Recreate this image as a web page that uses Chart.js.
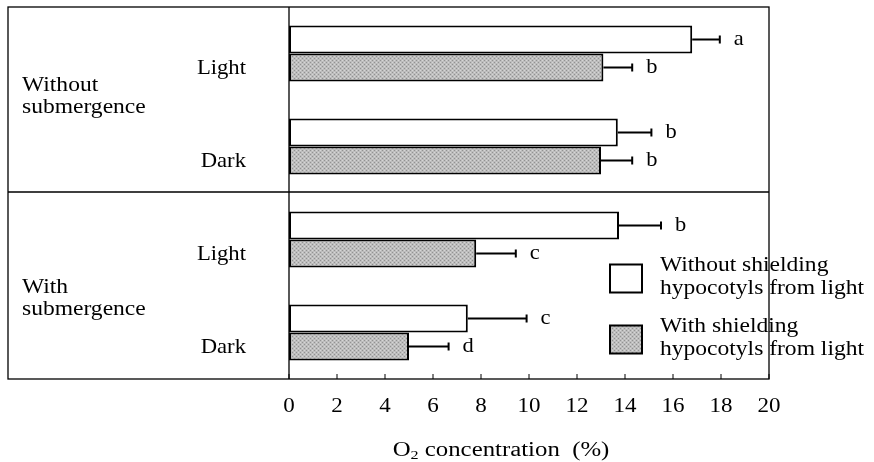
<!DOCTYPE html>
<html lang="en">
<head>
    <meta charset="UTF-8">
    <title>O2 concentration</title>
    <script src="https://cdn.jsdelivr.net/npm/chart.js"></script>
    <style>
        html, body { margin: 0; padding: 0; background: #fff; }
        #wrap { width: 874px; height: 462px; }
    </style>
</head>
<body>
    <div id="wrap"><canvas id="chart" width="874" height="462"></canvas></div>

    <script>
        // data
        const categories = ['Light', 'Dark', 'Light', 'Dark'];
        const groups = ['Without\nsubmergence', 'With\nsubmergence'];
        const seriesNames = ['Without shielding\nhypocotyls from light', 'With shielding\nhypocotyls from light'];
        const noShield = [16.8, 13.7, 13.75, 7.45];
        const withShield = [13.1, 13.0, 7.8, 5.0];
        const noShieldErr = [1.15, 1.4, 1.75, 2.45];
        const withShieldErr = [1.2, 1.3, 1.65, 1.65];
        const noShieldLetters = ['a', 'b', 'b', 'c'];
        const withShieldLetters = ['b', 'b', 'c', 'd'];
        const xTicks = [0, 2, 4, 6, 8, 10, 12, 14, 16, 18, 20];

        const serif = '"Liberation Serif", "DejaVu Serif", serif';

        // speckled grey fill like the scanned print
        function makeGrey() {
            const c = document.createElement('canvas');
            c.width = 4; c.height = 4;
            const g = c.getContext('2d');
            g.fillStyle = '#bdbdbd';
            g.fillRect(0, 0, 4, 4);
            g.fillStyle = '#929292';
            g.fillRect(0, 0, 1, 1);
            g.fillRect(2, 2, 1, 1);
            g.fillStyle = '#d6d6d6';
            g.fillRect(2, 0, 1, 1);
            g.fillRect(0, 2, 1, 1);
            return g.createPattern(c, 'repeat');
        }
        const grey = makeGrey();

        // the scanned type is a little wider than Liberation Serif
        function drawText(ctx, str, x, y, align, sx) {
            ctx.save();
            ctx.translate(x, y);
            ctx.scale(sx, 1);
            ctx.textAlign = align;
            ctx.fillText(str, 0, 0);
            ctx.restore();
        }

        const decor = {
            id: 'decor',
            afterDatasetsDraw(chart) {
                const ctx = chart.ctx;
                const a = chart.chartArea;
                const xs = chart.scales.x;
                const ys = chart.scales.y;
                const left = 8;
                const sx = 1.07;
                ctx.save();

                // error bars and letters
                const errs = [noShieldErr, withShieldErr];
                const letters = [noShieldLetters, withShieldLetters];
                ctx.strokeStyle = '#000';
                ctx.lineWidth = 2;
                ctx.font = '21px ' + serif;
                ctx.fillStyle = '#000';
                ctx.textBaseline = 'middle';
                chart.data.datasets.forEach((ds, di) => {
                    chart.getDatasetMeta(di).data.forEach((bar, i) => {
                        const x0 = xs.getPixelForValue(ds.data[i]);
                        const x1 = xs.getPixelForValue(ds.data[i] + errs[di][i]);
                        ctx.beginPath();
                        ctx.moveTo(x0, bar.y);
                        ctx.lineTo(x1, bar.y);
                        ctx.moveTo(x1, bar.y - 4);
                        ctx.lineTo(x1, bar.y + 4);
                        ctx.stroke();
                        drawText(ctx, letters[di][i], x1 + 14, bar.y, 'left', sx);
                    });
                });

                // frame and dividers
                ctx.lineWidth = 1.3;
                ctx.strokeRect(left, a.top, a.right - left, a.bottom - a.top);
                ctx.beginPath();
                ctx.moveTo(a.left, a.top);
                ctx.lineTo(a.left, a.bottom);
                const mid = (a.top + a.bottom) / 2 - 1;
                ctx.moveTo(left, mid);
                ctx.lineTo(a.right, mid);
                ctx.stroke();

                // inward tick marks and tick labels
                ctx.lineWidth = 1;
                ctx.font = '20px ' + serif;
                xTicks.forEach(t => {
                    const x = xs.getPixelForValue(t);
                    ctx.beginPath();
                    ctx.moveTo(x, a.bottom);
                    ctx.lineTo(x, a.bottom - 5);
                    ctx.stroke();
                    drawText(ctx, String(t), x, a.bottom + 28, 'center', 1.15);
                });

                // axis title with subscript
                const tx = (a.left + a.right) / 2 - 28;
                const ty = a.bottom + 72;
                const tsx = 1.24;
                ctx.font = '20px ' + serif;
                const wO = ctx.measureText('O').width;
                const rest = ' concentration  (%)';
                const wR = ctx.measureText(rest).width;
                ctx.font = '13px ' + serif;
                const w2 = ctx.measureText('2').width;
                const total = (wO + w2 + wR) * tsx;
                ctx.save();
                ctx.translate(tx - total / 2, ty);
                ctx.scale(tsx, 1);
                ctx.textAlign = 'left';
                ctx.font = '20px ' + serif;
                ctx.fillText('O', 0, 0);
                ctx.font = '13px ' + serif;
                ctx.fillText('2', wO, 5);
                ctx.font = '20px ' + serif;
                ctx.fillText(rest, wO + w2, 0);
                ctx.restore();

                ctx.font = '22px ' + serif;

                // category labels
                categories.forEach((c, i) => {
                    drawText(ctx, c, a.left - 43, ys.getPixelForValue(i) + 15, 'right', 1.03);
                });

                // group labels
                const gy = [(a.top + mid) / 2 - 3, (mid + a.bottom) / 2 + 13];
                groups.forEach((g, i) => {
                    const lines = g.split('\n');
                    drawText(ctx, lines[0], left + 14, gy[i] - 11, 'left', sx);
                    drawText(ctx, lines[1], left + 14, gy[i] + 11, 'left', sx);
                });

                // legend
                const fills = ['#fff', grey];
                const boxX = a.right - 159;
                const boxY = [ys.getPixelForValue(2) + 25, ys.getPixelForValue(3) - 7];
                seriesNames.forEach((s, i) => {
                    ctx.fillStyle = fills[i];
                    ctx.fillRect(boxX, boxY[i], 32, 28);
                    ctx.lineWidth = 2;
                    ctx.strokeRect(boxX, boxY[i], 32, 28);
                    ctx.fillStyle = '#000';
                    const lines = s.split('\n');
                    drawText(ctx, lines[0], boxX + 50, boxY[i] + 1, 'left', sx);
                    drawText(ctx, lines[1], boxX + 50, boxY[i] + 24, 'left', sx);
                });
                ctx.restore();
            }
        };

        new Chart(document.getElementById('chart'), {
            type: 'bar',
            data: {
                labels: categories,
                datasets: [
                    { label: 'no shield', data: noShield, backgroundColor: '#fff', borderColor: '#000', borderWidth: 2, borderSkipped: false },
                    { label: 'shield', data: withShield, backgroundColor: grey, borderColor: '#000', borderWidth: 2, borderSkipped: false }
                ]
            },
            options: {
                indexAxis: 'y',
                responsive: false,
                animation: false,
                layout: { padding: { left: 289, right: 105, top: 7, bottom: 0 } },
                datasets: { bar: { categoryPercentage: 0.6, barPercentage: 1.0 } },
                scales: {
                    y: { display: false },
                    x: {
                        min: 0, max: 20,
                        afterFit: s => { s.height = 83; },
                        afterBuildTicks: s => { s.ticks = xTicks.map(v => ({ value: v })); },
                        grid: { display: false },
                        border: { display: false },
                        ticks: { display: false }
                    }
                },
                plugins: { legend: { display: false }, tooltip: { enabled: false } }
            },
            plugins: [decor]
        });
    </script>
</body>
</html>
